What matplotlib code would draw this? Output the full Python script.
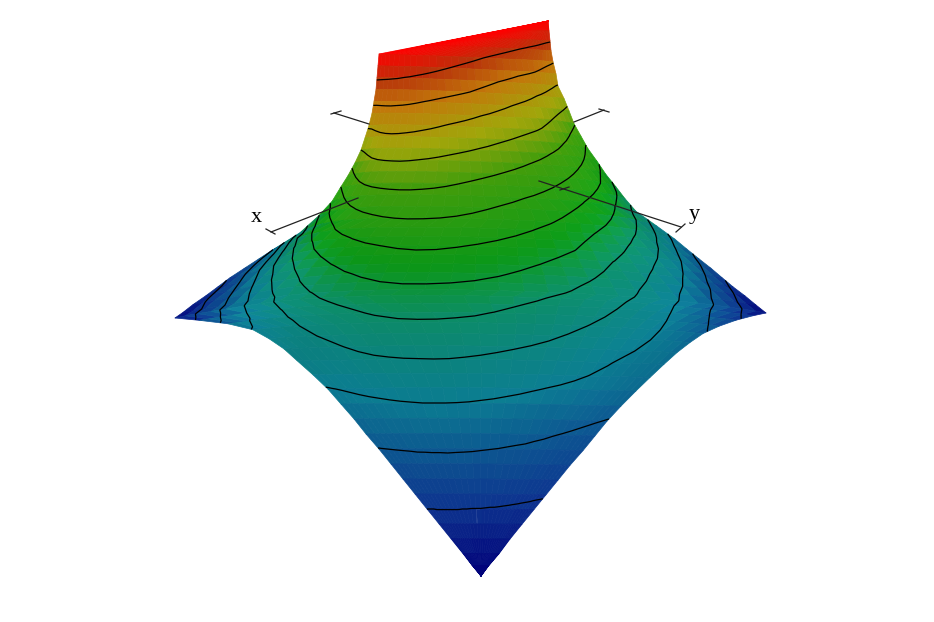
#!/usr/bin/env python3
"""Surface over a diamond-shaped domain with level curves, seen from above."""
import numpy as np
import matplotlib
matplotlib.use("Agg")
import matplotlib.pyplot as plt
from matplotlib.colors import LinearSegmentedColormap

# depth of each mesh row (back to front) and its left/right ends
ROW_Y = [545, 537, 529, 521, 512, 502, 492, 482, 472, 462, 452, 442, 432, 422, 412, 402, 392, 382, 372, 364, 356, 348, 340, 332, 324,
         316, 309, 304, 297, 289, 280, 270, 259, 247, 234, 221, 207, 193, 179, 165, 151, 137, 123, 109, 95, 81, 67, 56, 46]
ROW_LEFT = [548, 507, 466, 425, 379, 378, 377, 376, 374, 372, 369, 365, 361, 355, 348, 340, 332, 318, 300, 272, 258, 244, 230, 218, 206,
            193, 183, 175, 199, 228, 253, 269, 284, 297, 313, 328, 341, 354, 366, 379, 391, 403, 415, 427, 439, 451, 463, 472, 481]
ROW_RIGHT = [548, 549, 550, 551, 553, 556, 558, 564, 569, 574, 581, 588, 597, 606, 616, 625, 636, 657, 675, 687, 699, 711, 722, 733, 745,
             756, 766, 753, 736, 719, 703, 690, 677, 664, 650, 636, 621, 607, 595, 583, 570, 558, 546, 534, 522, 510, 499, 489, 481]

# surface height in hundredths, one line per mesh row
HEIGHT = [
    [1400] * 31,
    [1400, 1399, 1398, 1397, 1396, 1395, 1394, 1392, 1391, 1389, 1387, 1385, 1383, 1382, 1379, 1377, 1376, 1373, 1371, 1369, 1368, 1366, 1364, 1362, 1360, 1359, 1357, 1356, 1355, 1354, 1353],
    [1400, 1399, 1397, 1395, 1393, 1391, 1388, 1386, 1383, 1380, 1376, 1373, 1369, 1365, 1361, 1357, 1353, 1349, 1344, 1340, 1336, 1332, 1329, 1325, 1322, 1319, 1316, 1313, 1310, 1308, 1306],
    [1400, 1398, 1396, 1394, 1391, 1388, 1384, 1381, 1377, 1372, 1368, 1363, 1357, 1352, 1345, 1339, 1332, 1326, 1319, 1313, 1307, 1301, 1296, 1291, 1287, 1282, 1276, 1270, 1265, 1262, 1259],
    [1400, 1393, 1390, 1387, 1383, 1380, 1376, 1372, 1367, 1362, 1356, 1351, 1344, 1336, 1328, 1320, 1312, 1303, 1294, 1286, 1278, 1270, 1264, 1258, 1252, 1245, 1238, 1230, 1221, 1214, 1206],
    [1355, 1353, 1351, 1349, 1346, 1343, 1340, 1336, 1331, 1326, 1320, 1313, 1305, 1297, 1289, 1281, 1272, 1263, 1253, 1243, 1234, 1226, 1220, 1214, 1208, 1200, 1190, 1178, 1168, 1158, 1150],
    [1309, 1308, 1307, 1306, 1304, 1302, 1298, 1295, 1290, 1285, 1279, 1272, 1265, 1257, 1249, 1241, 1231, 1221, 1211, 1200, 1192, 1184, 1172, 1164, 1155, 1145, 1134, 1122, 1112, 1102, 1094],
    [1264, 1263, 1262, 1261, 1260, 1259, 1256, 1252, 1248, 1242, 1236, 1229, 1222, 1215, 1208, 1200, 1189, 1178, 1166, 1154, 1143, 1133, 1123, 1112, 1101, 1091, 1080, 1069, 1058, 1048, 1039],
    [1218, 1217, 1217, 1217, 1217, 1215, 1213, 1210, 1205, 1199, 1193, 1186, 1179, 1172, 1164, 1154, 1144, 1133, 1121, 1110, 1099, 1089, 1080, 1071, 1059, 1047, 1034, 1021, 1007, 993, 979],
    [1165, 1166, 1170, 1173, 1174, 1173, 1172, 1168, 1164, 1158, 1152, 1144, 1136, 1128, 1119, 1109, 1099, 1090, 1080, 1071, 1061, 1052, 1043, 1033, 1020, 1004, 986, 966, 946, 927, 907],
    [1116, 1116, 1124, 1129, 1132, 1132, 1131, 1128, 1124, 1118, 1111, 1103, 1094, 1086, 1078, 1070, 1061, 1052, 1043, 1033, 1024, 1015, 1005, 993, 975, 956, 935, 911, 888, 865, 844],
    [1053, 1063, 1074, 1084, 1089, 1091, 1090, 1087, 1083, 1077, 1072, 1065, 1057, 1049, 1041, 1033, 1025, 1015, 1005, 995, 984, 972, 959, 943, 925, 904, 883, 861, 836, 810, 781],
    [1000, 1013, 1028, 1038, 1044, 1047, 1047, 1046, 1043, 1039, 1033, 1027, 1019, 1012, 1004, 995, 986, 975, 964, 952, 939, 925, 909, 892, 874, 855, 834, 810, 782, 750, 719],
    [929, 950, 972, 990, 998, 1002, 1004, 1005, 1003, 999, 995, 989, 982, 974, 966, 956, 946, 934, 922, 909, 895, 881, 865, 847, 828, 807, 784, 755, 725, 692, 636],
    [860, 894, 920, 941, 952, 958, 962, 964, 963, 961, 958, 952, 946, 937, 927, 917, 906, 894, 882, 869, 855, 840, 823, 803, 782, 760, 736, 707, 669, 629, 575],
    [792, 829, 862, 887, 904, 914, 919, 922, 924, 923, 920, 916, 909, 900, 890, 879, 868, 856, 843, 830, 816, 799, 779, 758, 735, 711, 684, 655, 619, 580, 533],
    [715, 754, 798, 827, 849, 865, 874, 880, 883, 884, 882, 878, 872, 865, 854, 843, 830, 817, 803, 790, 773, 754, 731, 708, 683, 656, 626, 591, 546, 506, 467],
    [589, 654, 715, 756, 786, 808, 824, 834, 840, 843, 843, 840, 835, 828, 818, 805, 791, 778, 763, 745, 724, 700, 675, 648, 618, 584, 544, 501, 444, 395, 345],
    [433, 516, 595, 660, 707, 742, 766, 782, 794, 801, 804, 803, 800, 794, 784, 771, 758, 743, 726, 706, 682, 654, 625, 595, 562, 523, 475, 424, 368, 316, 269],
    [193, 292, 383, 504, 583, 647, 694, 725, 745, 759, 769, 773, 772, 768, 760, 748, 734, 720, 702, 681, 657, 626, 593, 560, 524, 483, 432, 377, 320, 267, 219],
    [164, 230, 313, 413, 517, 588, 642, 679, 704, 722, 733, 741, 744, 740, 732, 721, 708, 693, 675, 654, 630, 594, 560, 524, 485, 443, 393, 335, 277, 224, 178],
    [136, 193, 267, 357, 455, 533, 595, 636, 666, 686, 699, 709, 714, 712, 704, 694, 682, 667, 648, 626, 602, 564, 528, 490, 449, 404, 353, 297, 241, 191, 143],
    [107, 159, 223, 307, 399, 475, 542, 592, 628, 654, 670, 680, 686, 685, 679, 670, 657, 642, 621, 598, 570, 527, 495, 457, 414, 366, 317, 262, 209, 156, 109],
    [82, 126, 189, 261, 348, 430, 497, 553, 591, 622, 641, 653, 659, 659, 653, 643, 632, 615, 594, 570, 542, 505, 468, 426, 381, 334, 283, 228, 173, 123, 79],
    [59, 115, 165, 227, 306, 389, 457, 515, 557, 589, 612, 626, 632, 634, 628, 620, 608, 589, 566, 542, 512, 479, 439, 396, 350, 302, 250, 196, 140, 94, 52],
    [35, 91, 142, 198, 269, 345, 417, 479, 525, 557, 582, 599, 606, 606, 603, 596, 582, 562, 539, 515, 485, 450, 411, 367, 319, 270, 218, 165, 113, 66, 24],
    [15, 63, 118, 175, 241, 314, 382, 444, 495, 528, 555, 574, 583, 584, 581, 574, 559, 538, 517, 493, 464, 429, 390, 345, 297, 248, 197, 144, 95, 48, 0],
    [0, 56, 109, 163, 226, 294, 359, 418, 468, 503, 530, 552, 564, 567, 565, 559, 547, 528, 508, 487, 462, 432, 397, 359, 316, 271, 226, 180, 135, 95, 56],
    [117, 154, 198, 245, 299, 349, 395, 438, 472, 497, 518, 535, 543, 545, 542, 536, 525, 506, 490, 473, 451, 425, 396, 366, 331, 294, 257, 219, 183, 149, 119],
    [230, 258, 292, 327, 362, 395, 424, 450, 471, 490, 505, 515, 519, 519, 515, 509, 497, 483, 470, 454, 434, 413, 390, 365, 339, 310, 281, 252, 223, 195, 169],
    [305, 323, 347, 371, 391, 408, 428, 446, 463, 476, 486, 491, 492, 491, 487, 481, 471, 459, 448, 434, 417, 398, 379, 359, 338, 316, 295, 275, 253, 230, 211],
    [332, 349, 366, 380, 391, 401, 415, 431, 444, 454, 460, 463, 464, 462, 459, 452, 444, 434, 424, 411, 396, 380, 364, 347, 330, 312, 297, 285, 271, 254, 238],
    [352, 361, 371, 378, 382, 388, 398, 410, 420, 426, 430, 432, 433, 432, 428, 422, 414, 406, 397, 387, 375, 361, 347, 332, 317, 303, 294, 286, 278, 269, 261],
    [359, 358, 358, 359, 363, 368, 376, 384, 391, 395, 398, 399, 400, 399, 395, 390, 384, 376, 368, 359, 350, 340, 327, 315, 302, 293, 287, 281, 277, 272, 268],
    [329, 329, 329, 333, 339, 345, 352, 359, 363, 366, 367, 367, 367, 366, 363, 358, 353, 346, 340, 333, 325, 316, 308, 299, 293, 287, 281, 276, 271, 267, 264],
    [295, 299, 302, 306, 311, 316, 320, 325, 328, 331, 333, 335, 335, 335, 333, 330, 326, 320, 313, 305, 298, 293, 287, 281, 274, 266, 260, 256, 253, 251, 251],
    [273, 276, 278, 281, 284, 287, 290, 293, 296, 298, 300, 300, 300, 299, 297, 293, 289, 283, 278, 272, 267, 261, 256, 250, 244, 238, 233, 229, 226, 224, 223],
    [252, 253, 254, 256, 258, 260, 262, 264, 266, 268, 269, 269, 269, 268, 266, 263, 260, 255, 251, 246, 241, 236, 231, 226, 221, 216, 211, 207, 203, 200, 196],
    [225, 226, 227, 229, 230, 232, 233, 235, 236, 237, 238, 238, 238, 237, 235, 233, 230, 227, 223, 220, 216, 211, 207, 202, 198, 194, 190, 186, 183, 180, 178],
    [198, 199, 200, 201, 202, 203, 204, 206, 206, 207, 207, 208, 207, 206, 205, 203, 201, 199, 196, 193, 191, 187, 184, 180, 177, 173, 170, 167, 164, 162, 160],
    [174, 174, 175, 176, 177, 178, 179, 179, 180, 180, 180, 180, 179, 179, 178, 176, 175, 173, 171, 169, 167, 164, 161, 159, 156, 153, 150, 148, 146, 143, 142],
    [149, 150, 150, 151, 151, 152, 152, 153, 153, 153, 153, 153, 153, 152, 151, 150, 149, 148, 146, 144, 142, 141, 139, 137, 134, 132, 131, 128, 127, 125, 123],
    [125, 125, 125, 126, 126, 126, 126, 127, 127, 127, 127, 127, 126, 126, 125, 124, 123, 122, 121, 120, 118, 117, 115, 114, 112, 111, 110, 108, 107, 106, 105],
    [100, 100, 100, 100, 101, 101, 101, 101, 101, 101, 101, 100, 100, 99, 99, 99, 98, 97, 97, 96, 95, 94, 93, 92, 91, 90, 89, 88, 87, 87, 86],
    [78, 78, 78, 78, 78, 78, 78, 78, 78, 78, 77, 77, 77, 77, 76, 76, 75, 75, 74, 74, 73, 73, 72, 72, 71, 70, 70, 69, 69, 68, 68],
    [56, 56, 56, 56, 56, 55, 55, 55, 55, 55, 55, 55, 54, 54, 54, 53, 53, 53, 52, 52, 52, 51, 51, 50, 50, 50, 49, 49, 49, 48, 48],
    [33, 34, 34, 34, 33, 33, 33, 33, 33, 33, 33, 32, 32, 32, 32, 32, 31, 31, 31, 31, 31, 30, 30, 30, 30, 30, 30, 30, 29, 29, 29],
    [16, 16, 16, 16, 16, 16, 16, 16, 16, 15, 15, 15, 15, 15, 15, 15, 15, 15, 15, 15, 15, 14, 14, 14, 14, 14, 14, 14, 14, 14, 14],
    [0] * 31,
]
LEVELS = list(range(1, 14))

# axis stubs drawn over the surface, in figure pixels from the top left
AXIS_SEGMENTS = [
    ((271, 232), (358, 198)), ((266, 229), (275, 234)),
    ((539, 181), (681, 227)), ((676, 232), (685, 224)), ((560, 190), (569, 187)),
    ((334, 113), (369, 124)), ((331, 114), (341, 111)),
    ((574, 122), (604, 110)), ((599, 109), (609, 112)),
]

COLOR_STOPS = [(0, (0, 0, .47)), (1 / 14, (.05, .2, .55)), (3 / 14, (.04, .47, .55)), (5 / 14, (.04, .52, .38)),
               (6.5 / 14, (.04, .56, .08)), (9 / 14, (.25, .6, .04)), (10.5 / 14, (.63, .65, .04)),
               (12 / 14, (.76, .47, .04)), (13 / 14, (.72, .2, .04)), (1, (1, 0, 0))]
cmap = LinearSegmentedColormap.from_list("surf", COLOR_STOPS)

WIDTH, HEIGHT_PX = 934, 622
Z = np.array(HEIGHT) / 100
left, right = np.array(ROW_LEFT, float), np.array(ROW_RIGHT, float)
t = np.linspace(0, 1, Z.shape[1])
col_frac = (t + (1 - np.cos(np.pi * t)) / 2) / 2  # columns tighten towards the rims
X = left[:, None] + (right - left)[:, None] * col_frac
Y = np.repeat(np.array(ROW_Y, float)[:, None], Z.shape[1], axis=1)

# face colours, brightened on the lower flanks that face the two lights
dz_di, dz_dj = np.gradient(Z)
dx_di, dx_dj = np.gradient(X)
dy_di = np.gradient(Y, axis=0)
zx = dz_dj / dx_dj.clip(0.5)
zy = (dz_di - zx * dx_di) / dy_di
slope = np.sqrt(zx ** 2 + zy ** 2 + 0.03 ** 2)
lit_right = np.clip((-zx * 0.75 + zy * 0.66) / slope, 0, 1) ** 3
lit_left = np.clip((zx * 0.85 + zy * 0.53) / slope, 0, 1) ** 3
gain = (0.3 * lit_right + 0.24 * lit_left) * np.clip((10 - Z) / 4, 0, 1)
corner = lambda a: (a[:-1, :-1] + a[1:, 1:] + a[:-1, 1:] + a[1:, :-1]) / 4
colors = cmap(corner(Z) / 14)
colors[..., :3] = np.clip(colors[..., :3] * (1 + corner(gain))[..., None] + 0.1 * corner(gain)[..., None], 0, 1)

fig = plt.figure(figsize=(WIDTH / 100, HEIGHT_PX / 100), dpi=100)
size = 1000.0
ax = fig.add_axes([-46.5 / WIDTH, -174.5 / HEIGHT_PX, size / WIDTH, size / HEIGHT_PX],
                  projection="3d", computed_zorder=False)
ax.set_proj_type("ortho")
ax.view_init(elev=45, azim=-90)
sin45 = np.sin(np.radians(45))
box = np.array([WIDTH, HEIGHT_PX / sin45, 56 / sin45])
ax.set_box_aspect(box, zoom=10 * 0.185 / size * np.linalg.norm(box) / (1.8294640721620434 * 25 / 24))
ax.plot_surface(X, Y, Z, facecolors=colors, rstride=1, cstride=1, shade=False, linewidth=0.5, zorder=1)
ax.contour(X, Y, Z, levels=LEVELS, colors="k", linewidths=0.9, zorder=2)
ax.set_xlim(0, WIDTH, view_margin=0)
ax.set_ylim(0, HEIGHT_PX, view_margin=0)
ax.set_zlim(0, 14, view_margin=0)
ax.set_axis_off()

overlay = fig.add_axes([0, 0, 1, 1])
overlay.set_xlim(0, WIDTH)
overlay.set_ylim(HEIGHT_PX, 0)
overlay.patch.set_alpha(0)
overlay.axis("off")
for (x0, y0), (x1, y1) in AXIS_SEGMENTS:
    overlay.plot([x0, x1], [y0, y1], color="#222222", linewidth=0.9)
overlay.text(256, 217, "x", family="Liberation Serif", fontsize=16, ha="center", va="center")
overlay.text(694, 215, "y", family="Liberation Serif", fontsize=16, ha="center", va="center")

fig.savefig("out.png", dpi=100)
plt.close()
